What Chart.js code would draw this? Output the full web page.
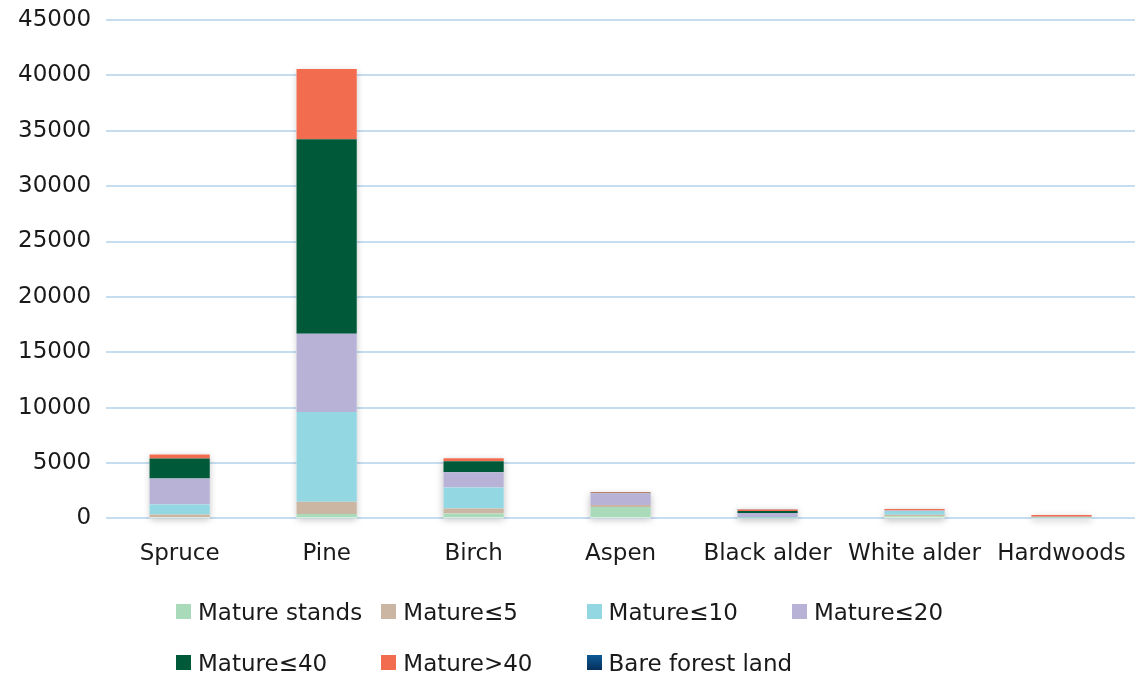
<!DOCTYPE html>
<html>
<head>
<meta charset="utf-8">
<script src="https://cdn.jsdelivr.net/npm/chart.js@4/dist/chart.umd.min.js"></script>
<style>
  html, body { margin: 0; background: #fff; font-family: "DejaVu Sans", sans-serif; overflow: hidden; }
  #wrap { position: relative; width: 1135px; height: 590px; }
  #legend { position: absolute; left: 176px; top: 586px; width: 900px; }
  .row { display: flex; height: 51px; align-items: center; }
  .item { width: 205.3px; display: flex; align-items: center; font-size: 23px; color: #1a1a1a; white-space: nowrap; }
  .box { width: 15px; height: 15px; margin-right: 7px; flex: none; }
</style>
</head>
<body>
<div id="wrap"><canvas id="grafico"></canvas></div>
<div id="legend"></div>
<script>
let especies = ['Spruce', 'Pine', 'Birch', 'Aspen', 'Black alder', 'White alder', 'Hardwoods'];
let yTicks = [0, 5000, 10000, 15000, 20000, 25000, 30000, 35000, 40000, 45000];

// values per species, bottom of the stack first
let matureStands = [100, 400, 450, 1030, 30, 200, 40];
let mature5 = [250, 1100, 450, 180, 10, 130, 20];
let mature10 = [900, 8100, 1900, 10, 90, 330, 60];
let mature20 = [2350, 7070, 1360, 1040, 350, 60, 20];
let mature40 = [1800, 17570, 1000, 60, 180, 0, 10];
let matureOver40 = [380, 6340, 270, 60, 150, 120, 150];
let bareLand = [0, 0, 0, 0, 10, 0, 0];

let series = [
    { label: 'Mature stands', data: matureStands, color: '#a9dbbb' },
    { label: 'Mature≤5', data: mature5, color: '#cab6a2' },
    { label: 'Mature≤10', data: mature10, color: '#93d7e3' },
    { label: 'Mature≤20', data: mature20, color: '#b8b2d7' },
    { label: 'Mature≤40', data: mature40, color: '#005a3a' },
    { label: 'Mature>40', data: matureOver40, color: '#f26c50' },
    { label: 'Bare forest land', data: bareLand, color: '#0b4a80' }
];

// soft shadow behind each full stack, like the original
const sombra = {
    id: 'sombra',
    beforeDatasetsDraw(chart) {
        let ctx = chart.ctx;
        let y0 = chart.scales.y.getPixelForValue(0);
        let metas = chart.data.datasets.map((d, i) => chart.getDatasetMeta(i));
        ctx.save();
        ctx.shadowColor = 'rgba(0,0,0,0.25)';
        ctx.shadowBlur = 7;
        ctx.shadowOffsetY = 2;
        ctx.fillStyle = '#fff';
        especies.forEach((e, i) => {
            let top = y0;
            metas.forEach(m => { top = Math.min(top, m.data[i].y); });
            let el = metas[0].data[i];
            ctx.fillRect(el.x - el.width / 2, top, el.width, y0 - top);
        });
        ctx.restore();
    }
};

let ctx = document.getElementById('grafico');
let myChart = new Chart(ctx, {
    type: 'bar',
    data: {
        labels: especies,
        datasets: series.map(s => ({
            label: s.label,
            data: s.data,
            backgroundColor: s.color,
            borderWidth: 0,
            categoryPercentage: 1,
            barPercentage: 0.41
        }))
    },
    options: {
        responsive: true,
        maintainAspectRatio: false,
        animation: false,
        layout: { padding: { left: 3, right: 0, top: 20, bottom: 0 } },
        plugins: { legend: { display: false }, tooltip: { enabled: false } },
        scales: {
            x: {
                stacked: true,
                grid: { display: false, drawTicks: false },
                border: { display: false },
                ticks: { color: '#1a1a1a', padding: 22, font: { family: 'DejaVu Sans', size: 23 } },
                afterFit: s => { s.paddingLeft = 0; s.paddingRight = 0; }
            },
            y: {
                stacked: true,
                min: 0,
                max: 45000,
                afterBuildTicks: axis => { axis.ticks = yTicks.map(v => ({ value: v })); },
                grid: { color: '#c6ddef', lineWidth: 2, drawTicks: false },
                border: { display: false },
                ticks: {
                    color: '#1a1a1a', padding: 15, font: { family: 'DejaVu Sans', size: 23 },
                    callback: v => String(v)
                },
                afterFit: s => { s.paddingTop = 0; s.paddingBottom = 0; }
            }
        }
    },
    plugins: [sombra]
});

// legend in fixed columns
let leg = document.getElementById('legend');
[series.slice(0, 4), series.slice(4)].forEach(fila => {
    let row = document.createElement('div');
    row.className = 'row';
    fila.forEach(s => {
        let it = document.createElement('div');
        it.className = 'item';
        let bg = s.label === 'Bare forest land' ? 'linear-gradient(#0d5a96, #062f5a)' : s.color;
        it.innerHTML = '<span class="box" style="background:' + bg + '"></span>' + s.label;
        row.appendChild(it);
    });
    leg.appendChild(row);
});
</script>
</body>
</html>
